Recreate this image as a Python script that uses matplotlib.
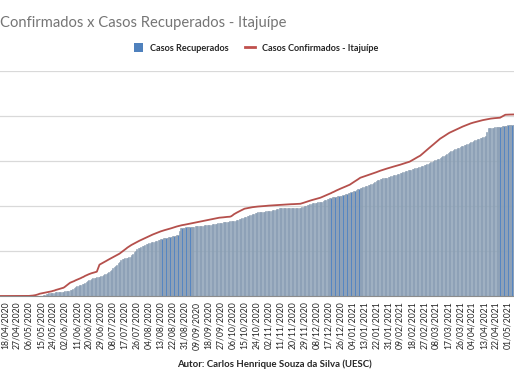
import numpy as np
import matplotlib
matplotlib.use("Agg")
import matplotlib.pyplot as plt
from matplotlib.patches import Patch
from matplotlib.lines import Line2D
import datetime as dt

# ---- data ----
start_date = dt.date(2020, 4, 14)   # day 0
n_days = 387

# daily new confirmed cases (day 1 .. day 386); day 0 = 0
confirmed_new = [
    0,0,0,0,0,0,0,0,0,0, 0,0,0,0,0,0,0,0,0,0, 1,0,1,1,2,2,
    3,4,5,6,
    3,2,4,3,2,4,3,2,
    4,5,3,6,4,5,4,5,4,4,
    10,12,11,12,11,
    6,7,5,8,6,6,6,
    7,8,6,9,7,6,7,6,
    5,4,5,4,4,
    40,38,
    8,9,7,9,8,9,8,8,
    8,8,7,9,8,8,8,
    11,12,10,12,11,12,10,11,
    8,8,7,9,8,7,8,
    7,7,6,8,7,7,7,7,
    6,7,6,7,6,6,6,
    4,5,4,5,4,4,4,4,
    5,5,4,5,5,4,5,
    3,3,2,3,3,2,3,3,
    3,3,3,4,3,3,3,
    3,3,2,3,3,3,3,3,
    3,3,3,4,3,3,3,
    1,2,1,2,1,2,1,1,
    5,10,12,9,8,
    8,7,8,7,8,7,
    3,3,2,3,3,3,2,3,
    1,1,1,2,1,1,1,1,2,1,1,1,1,2,1,1,1,1,1,
    1,1,0,1,1,0,1,1,0,1,1,0,1,1,1,
    4,5,5,5,5,5,5,
    4,4,4,5,4,4,4,4,
    6,7,6,7,6,6,6,
    7,8,6,8,7,7,7,6,
    6,6,7,6,7,6,6,
    10,9,10,10,9,10,10,10,
    5,5,4,5,5,5,5,
    5,6,5,6,5,6,5,6,
    5,5,4,5,5,4,5,
    4,5,4,4,5,4,4,4,
    5,5,4,5,5,4,5,
    8,9,8,9,8,9,8,8,
    12,13,13,13,12,13,13,
    12,13,12,13,12,13,12,13,
    9,10,9,10,9,10,9,
    7,7,7,7,7,7,7,7,
    6,7,6,7,6,6,6,
    4,5,4,4,5,4,4,4,
    3,3,3,4,3,3,3,
    1,2,1,2,1,2,1,1,
    8,9,8,8,
    1,0,1,0,1,0,
]

# daily new recovered cases (day 1 .. day 386); day 0 = 0
recovered_new = [
    0,0,0,0,0,0,0,0,0,0, 0,0,0,0,0,0,0,0,0,0, 0,0,0,0,0,0,0,0,0,0,
    0,0,10,0,8,0,15,0,
    0,3,0,4,0,0,4,
    0,5,0,6,0,6,0,6,
    0,12,10,11,11,
    5,6,5,6,5,6,
    10,9,10,9,9,9,
    2,2,3,2,2,
    8,7,8,7,8,7,
    13,12,13,13,13,13,
    15,16,16,15,16,
    4,4,3,4,4,3,
    18,18,17,18,18,
    8,7,8,7,8,7,
    6,5,6,5,6,5,
    5,6,5,6,5,6,
    3,4,3,3,4,3,3,
    4,3,4,4,3,4,
    40,38,
    2,1,2,1,2,1,2,
    1,2,1,2,1,2,1,1,
    2,2,2,2,2,2,2,2,2,2,2,
    3,3,3,4,3,3,3,
    1,2,1,2,1,2,1,1,
    6,7,6,7,6,7,6,
    5,6,5,6,5,6,5,6,
    3,3,2,3,
    2,1,2,1,2,1,2,
    4,5,4,4,5,4,4,4,
    0,0,0,0,0,0,0,0,0,0,0,0,0,0,0,
    6,7,6,7,6,6,6,
    3,3,2,3,3,3,2,3,
    6,7,6,7,6,7,6,
    3,3,2,3,3,3,2,3,
    5,5,4,5,5,4,5,
    7,7,7,7,7,7,7,7,
    5,5,4,5,5,4,5,
    8,9,8,9,8,9,8,8,
    3,3,3,4,3,3,3,
    6,5,6,5,6,6,5,6,
    5,5,4,5,5,4,5,
    4,4,4,5,4,4,4,4,
    6,7,6,7,6,7,6,
    7,7,7,7,7,7,7,6,
    9,10,9,10,10,9,10,
    7,7,7,7,7,7,7,7,
    6,7,6,7,6,6,6,
    7,7,7,7,7,7,7,7,
    5,5,5,6,40,45,5,
    1,2,1,2,1,2,1,1,
    3,3,2,3,3,3,2,3,
    2,1,
]

title = "Confirmados x Casos Recuperados - Itajuípe"
label_rec = "Casos Recuperados"
label_conf = "Casos Confirmados - Itajuípe"
author = "Autor: Carlos Henrique Souza da Silva (UESC)"
tick_start_day = 4   # 18/04/2020
tick_step = 9

# ---- derived ----
confirmed = np.concatenate([[0], np.cumsum(confirmed_new)])[:n_days]
recovered = np.concatenate([[0], np.cumsum(recovered_new)])[:n_days]
days = np.arange(len(confirmed))
days_r = np.arange(len(recovered))

tick_days = np.arange(tick_start_day, n_days, tick_step)
tick_labels = [(start_date + dt.timedelta(days=int(d))).strftime("%d/%m/%Y") for d in tick_days]

# ---- plot ----
plt.rcParams["font.family"] = ["Lato", "DejaVu Sans"]
W, H = 514, 386
fig = plt.figure(figsize=(W / 100, H / 100), dpi=100)
ax = fig.add_axes([0, (H - 296) / H, 1, (296 - 71) / H])

ax.bar(days_r, recovered, width=0.8, color="#5686c2", edgecolor="#9aa6b1",
       linewidth=0.45, zorder=2)
ax.plot(days, confirmed, color="#b5504c", linewidth=1.3, zorder=3)

ax.set_xlim(0.24, 386.5)
ax.set_ylim(0, 2500)
ax.set_yticks(np.arange(0, 2501, 500))
ax.set_yticklabels([])
ax.tick_params(axis="y", length=0)
ax.grid(axis="y", color="#d9d9d9", linewidth=0.9, zorder=0)
ax.set_axisbelow(True)
for s in ["top", "right", "left"]:
    ax.spines[s].set_visible(False)
ax.spines["bottom"].set_color("#8c8c8c")
ax.spines["bottom"].set_linewidth(0.8)

ax.set_xticks(tick_days)
ax.set_xticklabels(tick_labels, rotation=90, fontsize=6.2, color="#262626")
ax.tick_params(axis="x", length=0, pad=4)

fig.text(0.0, 1 - 23 / H, title, ha="left", va="center", fontsize=10.6,
         color="#757575")

handles = [Patch(facecolor="#4f81bd", edgecolor="none"),
           Line2D([0], [0], color="#c0504d", linewidth=2)]
leg = fig.legend(handles, [label_rec, label_conf], loc="center",
                 bbox_to_anchor=(256 / W, 1 - 48 / H), ncol=2, frameon=False,
                 fontsize=6.6, handlelength=1.0, handleheight=1.0,
                 columnspacing=1.8, handletextpad=0.8)
for t in leg.get_texts():
    t.set_color("#262626")
    t.set_fontweight("bold")

fig.text(274 / W, 1 - 364 / H, author, ha="center", va="center",
         fontsize=6.9, color="#262626", fontweight="bold")

fig.savefig("out.png", dpi=100)
